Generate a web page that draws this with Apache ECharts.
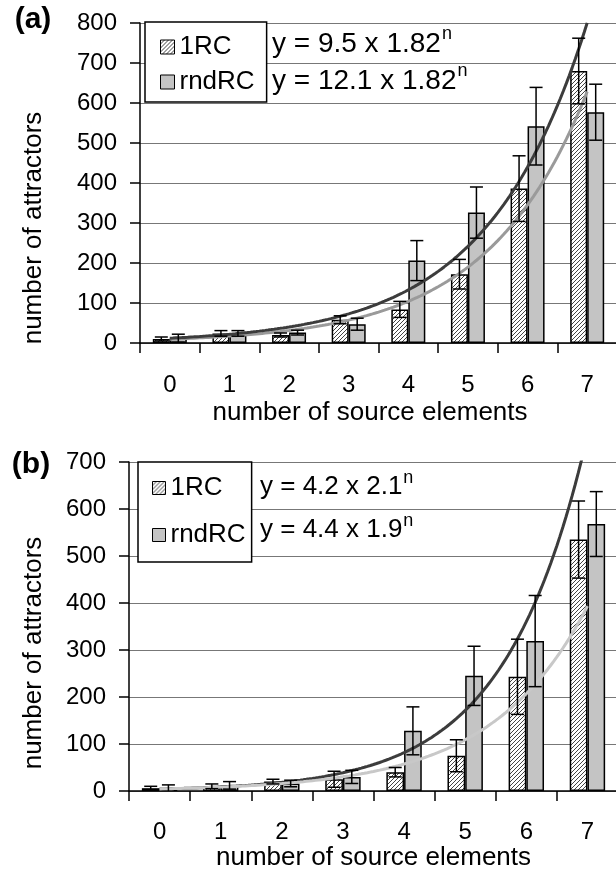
<!DOCTYPE html>
<html>
<head>
<meta charset="utf-8">
<script src="https://cdn.jsdelivr.net/npm/echarts@6/dist/echarts.min.js"></script>
<style>
  html, body { margin: 0; padding: 0; background: #fff; }
  #main { width: 616px; height: 871px; }
</style>
</head>
<body>
<div id="main"></div>
<script>
// categories = number of source elements
const categories = ['0', '1', '2', '3', '4', '5', '6', '7'];

// panel (a)
const a1RC = [10, 24, 20, 58, 84, 172, 386, 680];
const a1RCErr = [5, 7, 5, 10, 20, 37, 82, 82];
const aRndRC = [12, 24, 26, 47, 206, 326, 542, 577];
const aRndRCErr = [10, 7, 6, 15, 50, 64, 97, 70];
const aFit1RC = [9.5, 1.82];   // y = a * b^n
const aFitRnd = [12.1, 1.82];
const aTicks = [0, 800, 100];

// panel (b)
const b1RC = [6, 10, 20, 25, 40, 75, 243, 535];
const b1RCErr = [4, 5, 5, 17, 10, 34, 80, 82];
const bRndRC = [5, 12, 16, 30, 128, 245, 319, 568];
const bRndRCErr = [8, 8, 7, 14, 51, 63, 97, 69];
const bFit1RC = [4.2, 2.1];
const bFitRnd = [4.4, 1.9];
const bTicks = [0, 700, 100];

const FONT = 'Liberation Sans, Arial, sans-serif';

// diagonal hatch used for the 1RC bars
function hatch() {
    const c = document.createElement('canvas');
    c.width = 4; c.height = 4;
    const ctx = c.getContext('2d');
    ctx.fillStyle = '#fff';
    ctx.fillRect(0, 0, 4, 4);
    ctx.strokeStyle = '#444';
    ctx.lineWidth = 1;
    ctx.beginPath();
    ctx.moveTo(0, 4); ctx.lineTo(4, 0);
    ctx.moveTo(-1, 1); ctx.lineTo(1, -1);
    ctx.moveTo(3, 5); ctx.lineTo(5, 3);
    ctx.stroke();
    return c;
}
const hatchFill = { image: hatch(), repeat: 'repeat' };

// points of the fitted exponential, n = 0..7
function fitCurve(fit) {
    const pts = [];
    for (let i = 0; i <= 140; i++) {
        const n = i / 20;
        pts.push([n, fit[0] * Math.pow(fit[1], n)]);
    }
    return pts;
}

function errorBars(name, xi, yi, vals, errs, off) {
    return {
        type: 'custom', name: name, xAxisIndex: xi, yAxisIndex: yi, z: 6, clip: true,
        data: vals.map((v, i) => [i, v, errs[i]]),
        renderItem: function (params, api) {
            const i = api.value(0), v = api.value(1), e = api.value(2);
            const hi = api.coord([i, v + e]);
            const lo = api.coord([i, v - e]);
            const x = hi[0] + off, c = 6.5;
            const st = { stroke: '#000', lineWidth: 1.5 };
            return {
                type: 'group', children: [
                    { type: 'line', shape: { x1: x, y1: hi[1], x2: x, y2: lo[1] }, style: st },
                    { type: 'line', shape: { x1: x - c, y1: hi[1], x2: x + c, y2: hi[1] }, style: st },
                    { type: 'line', shape: { x1: x - c, y1: lo[1], x2: x + c, y2: lo[1] }, style: st }
                ]
            };
        }
    };
}

function catAxis(gi, labelMargin, nameGap, namePad) {
    return {
        type: 'category', gridIndex: gi, data: categories,
        axisLine: { onZero: false, lineStyle: { color: '#000', width: 1.5 } },
        axisTick: { show: true, length: 10, interval: 0, alignWithLabel: false, lineStyle: { color: '#000', width: 1.5 } },
        axisLabel: { interval: 0, fontSize: 24, color: '#000', margin: labelMargin, fontFamily: FONT },
        splitLine: { show: false },
        name: 'number of source elements', nameLocation: 'middle', nameGap: nameGap,
        nameTextStyle: { fontSize: 26, color: '#000', fontFamily: FONT, lineHeight: 26, padding: namePad }
    };
}
function hiddenX(gi) {
    return { type: 'value', gridIndex: gi, min: -0.5, max: 7.5, show: false };
}
function valAxis(gi, ticks) {
    return {
        type: 'value', gridIndex: gi, min: ticks[0], max: ticks[1], interval: ticks[2],
        axisLine: { show: true, onZero: false, lineStyle: { color: '#000', width: 1.5 } },
        axisTick: { show: true, length: 10, lineStyle: { color: '#000', width: 1.5 } },
        axisLabel: { fontSize: 24, color: '#000', margin: 23, fontFamily: FONT },
        splitLine: { show: true, lineStyle: { color: '#777', width: 1 } }
    };
}

function legendBox(left, top, pad, gap, icon) {
    return {
        data: ['1RC', 'rndRC'], orient: 'vertical', left: left, top: top,
        padding: pad, itemGap: gap, itemWidth: icon, itemHeight: icon,
        icon: 'rect', selectedMode: false,
        backgroundColor: '#fff', borderColor: '#000', borderWidth: 1.5,
        itemStyle: { borderColor: '#000', borderWidth: 1 },
        textStyle: { fontSize: 26, lineHeight: 26, color: '#000', fontFamily: FONT }
    };
}

// equation text plus a raised "n" placed right after it
const measureCtx = document.createElement('canvas').getContext('2d');
function eq(x, y, fit, size) {
    const txt = 'y = ' + fit[0] + ' x ' + fit[1];
    measureCtx.font = size + 'px ' + FONT;
    const w = measureCtx.measureText(txt).width;
    return [
        { type: 'text', x: x, y: y, z: 10,
          style: { text: txt, fontSize: size, fontFamily: FONT, fill: '#000', align: 'left', verticalAlign: 'middle' } },
        { type: 'text', x: x + w + 1, y: y - size * 0.68, z: 10,
          style: { text: 'n', fontSize: 18, fontFamily: FONT, fill: '#000', align: 'left', verticalAlign: 'top' } }
    ];
}
function plainText(x, y, text, size, bold, rot) {
    return {
        type: 'text', x: x, y: y, rotation: rot || 0, z: 10,
        style: {
            text: text, fontSize: size, fontWeight: bold ? 'bold' : 'normal', fontFamily: FONT,
            fill: '#000', align: 'center', verticalAlign: 'middle'
        }
    };
}

const myChart = echarts.init(document.getElementById('main'));

const option = {
    backgroundColor: '#fff',
    animation: false,
    grid: [
        { left: 140, top: 23, width: 477, height: 320, outerBoundsMode: 'none', containLabel: false },
        { left: 129, top: 462, width: 489, height: 329, outerBoundsMode: 'none', containLabel: false }
    ],
    xAxis: [catAxis(0, 30, 57, [0, 17, 0, 0]), hiddenX(0), catAxis(1, 29, 53, 0), hiddenX(1)],
    yAxis: [valAxis(0, aTicks), valAxis(1, bTicks)],
    legend: [
        legendBox(145, 22, [12, 12, 7, 15], 9, 14),
        legendBox(138, 462, [13, 6, 14, 14], 21, 13)
    ],
    graphic: [
        plainText(33, 20, '(a)', 30, true),
        plainText(31, 465, '(b)', 30, true),
        plainText(34, 228, 'number of attractors', 26, false, Math.PI / 2),
        plainText(34, 653, 'number of attractors', 26, false, Math.PI / 2)
    ].concat(
        eq(272, 44, aFit1RC, 28),
        eq(272, 81, aFitRnd, 28),
        eq(260, 487, bFit1RC, 26),
        eq(260, 530, bFitRnd, 26)
    ),
    series: [
        // panel (a)
        { type: 'bar', name: '1RC', xAxisIndex: 0, yAxisIndex: 0, data: a1RC, barWidth: 17, barGap: '0%',
          itemStyle: { color: hatchFill, borderColor: '#000', borderWidth: 1.5 } },
        { type: 'bar', name: 'rndRC', xAxisIndex: 0, yAxisIndex: 0, data: aRndRC, barWidth: 17, barGap: '0%',
          itemStyle: { color: '#c4c4c4', borderColor: '#000', borderWidth: 1.5 } },
        errorBars('a1RC-err', 0, 0, a1RC, a1RCErr, -8.5),
        errorBars('aRnd-err', 0, 0, aRndRC, aRndRCErr, 8.5),
        { type: 'line', name: 'a1RC-fit', xAxisIndex: 1, yAxisIndex: 0, data: fitCurve(aFit1RC), z: 5,
          showSymbol: false, lineStyle: { color: '#9a9a9a', width: 3 } },
        { type: 'line', name: 'aRnd-fit', xAxisIndex: 1, yAxisIndex: 0, data: fitCurve(aFitRnd), z: 5,
          showSymbol: false, lineStyle: { color: '#3c3c3c', width: 3 } },
        // panel (b)
        { type: 'bar', name: '1RC', xAxisIndex: 2, yAxisIndex: 1, data: b1RC, barWidth: 17.7, barGap: '0%',
          itemStyle: { color: hatchFill, borderColor: '#000', borderWidth: 1.5 } },
        { type: 'bar', name: 'rndRC', xAxisIndex: 2, yAxisIndex: 1, data: bRndRC, barWidth: 17.7, barGap: '0%',
          itemStyle: { color: '#c4c4c4', borderColor: '#000', borderWidth: 1.5 } },
        errorBars('b1RC-err', 2, 1, b1RC, b1RCErr, -8.85),
        errorBars('bRnd-err', 2, 1, bRndRC, bRndRCErr, 8.85),
        { type: 'line', name: 'b1RC-fit', xAxisIndex: 3, yAxisIndex: 1, data: fitCurve(bFit1RC), z: 5,
          showSymbol: false, lineStyle: { color: '#3c3c3c', width: 3 } },
        { type: 'line', name: 'bRnd-fit', xAxisIndex: 3, yAxisIndex: 1, data: fitCurve(bFitRnd), z: 5,
          showSymbol: false, lineStyle: { color: '#c8c8c8', width: 3 } }
    ]
};
myChart.setOption(option);
</script>
</body>
</html>
